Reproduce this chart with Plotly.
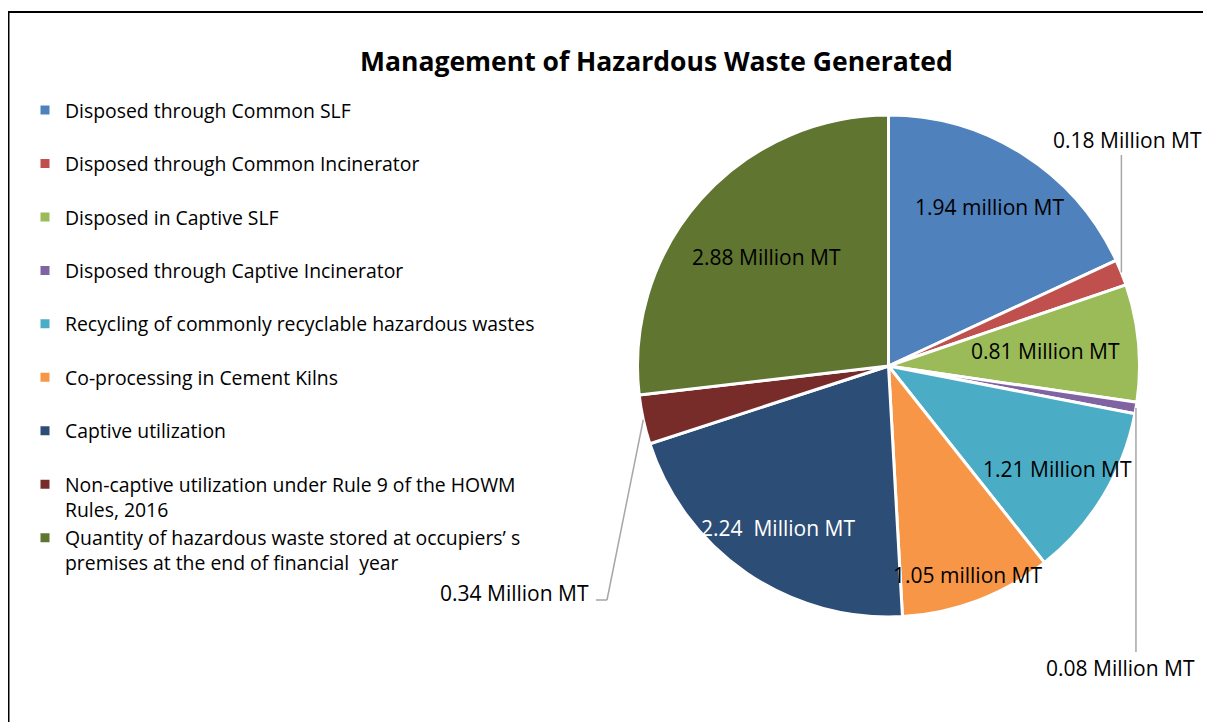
import math
import plotly.graph_objects as go

# ---------------- data ----------------
categories = [
    "Disposed through Common SLF",
    "Disposed through Common Incinerator",
    "Disposed in Captive SLF",
    "Disposed through Captive Incinerator",
    "Recycling of commonly recyclable hazardous wastes",
    "Co-processing in Cement Kilns",
    "Captive utilization",
    "Non-captive utilization under Rule 9 of the HOWM<br>Rules, 2016",
    "Quantity of hazardous waste stored at occupiers\u2019 s<br>premises at the end of financial  year",
]
values = [1.94, 0.18, 0.81, 0.08, 1.21, 1.05, 2.24, 0.34, 2.88]
value_labels = [
    "1.94 million MT",
    "0.18 Million MT",
    "0.81 Million MT",
    "0.08 Million MT",
    "1.21 Million MT",
    "1.05 million MT",
    "2.24  Million MT",
    "0.34 Million MT",
    "2.88 Million MT",
]
colors = ["#4F81BD", "#C0504D", "#9BBB59", "#8064A2", "#4BACC6",
          "#F79646", "#2C4D75", "#772C2A", "#5F7530"]
title = "Management of Hazardous Waste Generated"

# ---------------- layout constants ----------------
W, H = 1211, 722
OFF = 8                                   # page body margin
FONT = "Open Sans"
CX, CY, R = 888.5, 366.0, 251.0          # pie centre / radius (screen px)

def px(x, y):
    return (x - OFF) / W, 1 - (y - OFF) / H

dom_x = [px(CX - R, 0)[0], px(CX + R, 0)[0]]
dom_y = [px(0, CY + R)[1], px(0, CY - R)[1]]

# legend labels: make every entry two lines tall (Excel-like spacing)
legend_labels = [c if "<br>" in c else c + "<br> " for c in categories]

fig = go.Figure(go.Pie(
    labels=legend_labels,
    values=values,
    sort=False,
    direction="clockwise",
    rotation=0,
    marker=dict(colors=colors, line=dict(color="white", width=3)),
    textinfo="none",
    hovertext=value_labels,
    hoverinfo="label+text",
    domain=dict(x=dom_x, y=dom_y),
    showlegend=True,
))

# ---------- slice geometry derived from the values ----------
total = sum(values)
mid_angles = []
acc = 0.0
for v in values:
    mid_angles.append((acc + v / 2) / total * 360.0)
    acc += v

def polar(angle_deg, r):
    a = math.radians(angle_deg)
    return CX + r * math.sin(a), CY - r * math.cos(a)

annotations = []
shapes = []
LBL = 21

# inside labels: radial fraction of the radius (None -> outside label)
label_r = [0.75, None, 0.63, None, 0.79, 0.89, 0.78, None, 0.65]
label_col = ["black", None, "black", None, "black", "black", "white", None, "black"]
for i, fr in enumerate(label_r):
    if fr is None:
        continue
    x, y = polar(mid_angles[i], fr * R)
    ax_, ay_ = px(x, y)
    annotations.append(dict(x=ax_, y=ay_, xref="paper", yref="paper",
                            xanchor="center", yanchor="middle",
                            text=value_labels[i], showarrow=False,
                            font=dict(family=FONT, size=LBL, color=label_col[i])))

# outside labels with leader lines (leader path after the edge point, label anchor)
LEADER = "#A6A6A6"
outside = {
    1: dict(path=[("v", 155)], label=(1127, 140), anchor="center"),
    3: dict(path=[("v", 652)], label=(1120, 668), anchor="center"),
    7: dict(path=[("xy", (607, 600)), ("xy", (596, 600))], label=(591, 593), anchor="right"),
}
for i, spec in outside.items():
    sx, sy = polar(mid_angles[i], R)
    pts = [(sx, sy)]
    for kind, val in spec["path"]:
        if kind == "v":
            pts.append((pts[-1][0], val))
        else:
            pts.append(val)
    for (x0, y0), (x1, y1) in zip(pts[:-1], pts[1:]):
        a0 = px(x0, y0)
        a1 = px(x1, y1)
        shapes.append(dict(type="line", xref="paper", yref="paper",
                           x0=a0[0], y0=a0[1], x1=a1[0], y1=a1[1],
                           line=dict(color=LEADER, width=1.5)))
    lx, ly = px(*spec["label"])
    annotations.append(dict(x=lx, y=ly, xref="paper", yref="paper",
                            xanchor=spec["anchor"], yanchor="middle",
                            text=value_labels[i], showarrow=False,
                            font=dict(family=FONT, size=LBL, color="black")))

# title
tx, ty = px(656, 61)
annotations.append(dict(x=tx, y=ty, xref="paper", yref="paper",
                        xanchor="center", yanchor="middle",
                        text="<b>" + title + "</b>", showarrow=False,
                        font=dict(family=FONT, size=26.5, color="black")))

# chart frame
fx0, fy0 = px(8.5, 12)
shapes.append(dict(type="rect", xref="paper", yref="paper",
                   x0=fx0, y0=fy0, x1=1.2, y1=-0.2,
                   line=dict(color="black", width=2), fillcolor="rgba(0,0,0,0)"))

lgx, lgy = px(25, 91)
fig.update_layout(
    width=W, height=H,
    margin=dict(l=0, r=0, t=0, b=0),
    paper_bgcolor="white",
    plot_bgcolor="white",
    font=dict(family=FONT, size=19, color="black"),
    legend=dict(x=lgx, y=lgy, xanchor="left", yanchor="top",
                font=dict(family=FONT, size=19.4, color="black"),
                valign="top", bgcolor="rgba(0,0,0,0)",
                itemclick=False, itemdoubleclick=False),
    annotations=annotations,
    shapes=shapes,
)

fig.write_html("out.html")
